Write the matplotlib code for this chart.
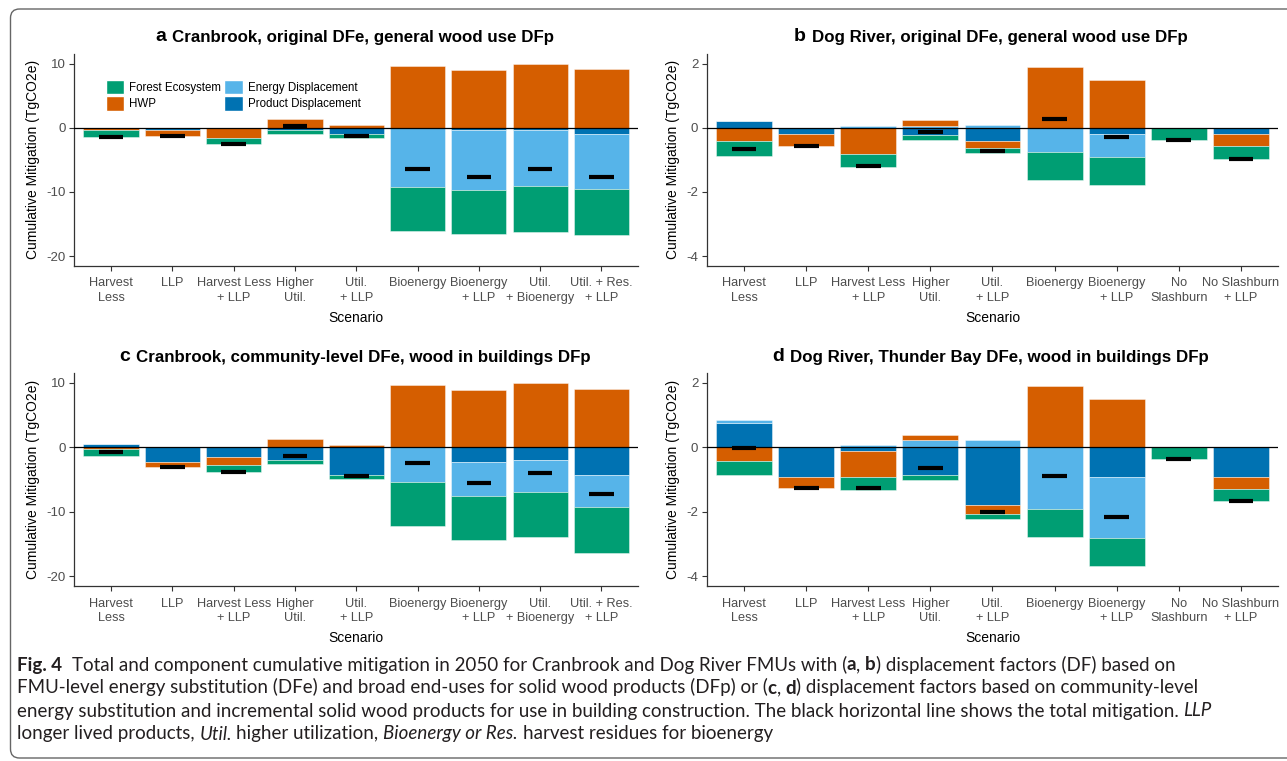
import numpy as np
import matplotlib
matplotlib.use("Agg")
import matplotlib.pyplot as plt
from matplotlib.patches import FancyBboxPatch, Patch

plt.rcParams['font.family'] = ['Liberation Sans', 'DejaVu Sans']
plt.rcParams['axes.unicode_minus'] = False

# categories
cats_cran = ["Harvest\nLess", "LLP", "Harvest Less\n+ LLP", "Higher\nUtil.", "Util.\n+ LLP",
             "Bioenergy", "Bioenergy\n+ LLP", "Util.\n+ Bioenergy", "Util. + Res.\n+ LLP"]
cats_dog = ["Harvest\nLess", "LLP", "Harvest Less\n+ LLP", "Higher\nUtil.", "Util.\n+ LLP",
            "Bioenergy", "Bioenergy\n+ LLP", "No\nSlashburn", "No Slashburn\n+ LLP"]

# panel a (TgCO2e)
forest_a = [-1.0, 0, -1.0, -0.7, -0.67, -6.9, -6.9, -7.25, -7.2]
hwp_a = [-0.42, -0.95, -1.6, 1.3, 0.35, 9.6, 8.95, 9.9, 9.1]
energy_a = [0, 0, 0, 0, 0, -9.2, -9.3, -8.75, -8.6]
product_a = [0, -0.35, 0, -0.35, -0.93, 0, -0.4, -0.3, -0.95]

# panel b
forest_b = [-0.45, 0, -0.41, -0.14, -0.16, -0.88, -0.87, -0.37, -0.39]
hwp_b = [-0.42, -0.39, -0.82, 0.19, -0.22, 1.9, 1.5, 0, -0.39]
energy_b = [0.02, 0, 0.04, 0.06, 0.07, -0.75, -0.73, 0, 0]
product_b = [0.2, -0.19, 0, -0.23, -0.42, 0, -0.19, 0, -0.19]

# panel c
forest_c = [-1.05, 0, -1.14, -0.65, -0.62, -6.77, -6.87, -7.03, -7.18]
hwp_c = [-0.3, -0.78, -1.19, 1.24, 0.36, 9.66, 8.94, 9.92, 9.1]
energy_c = [0, 0, 0, 0, 0, -5.37, -5.28, -4.96, -4.96]
product_c = [0.57, -2.27, -1.55, -1.9, -4.24, 0, -2.27, -1.91, -4.24]

# panel d
forest_d = [-0.45, 0, -0.42, -0.15, -0.15, -0.87, -0.87, -0.37, -0.38]
hwp_d = [-0.42, -0.36, -0.8, 0.15, -0.27, 1.89, 1.5, 0, -0.37]
energy_d = [0.09, 0, 0.07, 0.22, 0.22, -1.91, -1.89, 0, 0]
product_d = [0.75, -0.91, -0.11, -0.85, -1.8, 0, -0.91, 0, -0.91]

C_FOREST = '#009E73'
C_HWP = '#D55E00'
C_ENERGY = '#56B4E9'
C_PRODUCT = '#0072B2'

fig = plt.figure(figsize=(12.87, 7.61), dpi=100)

# background layer in pixel units: frame + caption
bg = fig.add_axes([0, 0, 1, 1])
bg.set_xlim(0, 1287)
bg.set_ylim(761, 0)
bg.axis('off')
bg.add_patch(FancyBboxPatch((10.5, 9), 1300, 749, boxstyle='round,pad=0,rounding_size=9',
                            fc='none', ec='#666666', lw=1.0, clip_on=False))


def panel(rect, letter, title, cats, forest, hwp, energy, product, ylim, yticks, legend=False):
    ax = fig.add_axes(rect)
    x = np.arange(len(cats))
    pos = np.zeros(len(cats))
    neg = np.zeros(len(cats))
    for vals, col in zip([product, energy, hwp, forest], [C_PRODUCT, C_ENERGY, C_HWP, C_FOREST]):
        v = np.array(vals, dtype=float)
        base = np.where(v >= 0, pos, neg)
        ax.bar(x, v, 0.9, bottom=base, color=col, edgecolor=(1, 1, 1, 0.6), linewidth=0.5, zorder=2)
        pos = pos + np.clip(v, 0, None)
        neg = neg + np.clip(v, None, 0)
    total = np.sum([forest, hwp, energy, product], axis=0)
    ax.axhline(0, color='black', lw=0.9, zorder=3)
    ax.hlines(total, x - 0.2, x + 0.2, color='black', lw=3, zorder=4, capstyle='butt')

    ax.set_xlim(-0.6, len(cats) - 0.4)
    ax.set_ylim(*ylim)
    ax.set_xticks(x)
    ax.set_xticklabels(cats, fontsize=9.2, color='#4D4D4D', linespacing=1.25)
    ax.set_yticks(yticks)
    ax.set_yticklabels([str(t) for t in yticks], fontsize=9.5, color='#4D4D4D')
    ax.tick_params(length=3.5, width=0.8, color='#333333', pad=2.5)
    ax.tick_params(axis='x', pad=5)
    for s in ['top', 'right']:
        ax.spines[s].set_visible(False)
    for s in ['left', 'bottom']:
        ax.spines[s].set_color('#333333')
        ax.spines[s].set_linewidth(0.9)
    ax.set_xlabel('Scenario', fontsize=10, labelpad=5)
    ax.set_ylabel('Cumulative Mitigation (TgCO2e)', fontsize=10, labelpad=5)

    t = ax.annotate(title, xy=(0.5, 1), xycoords='axes fraction', xytext=(5, 8.4),
                    textcoords='offset points', ha='center', va='baseline',
                    fontsize=12.2, fontweight='bold')
    ax.annotate(letter, xy=(0, 0), xycoords=t, xytext=(-4, 0), textcoords='offset points',
                ha='right', va='bottom', fontsize=14, fontweight='bold')

    if legend:
        handles = [Patch(facecolor=C_FOREST, edgecolor='white', label='Forest Ecosystem'),
                   Patch(facecolor=C_HWP, edgecolor='white', label='HWP'),
                   Patch(facecolor=C_ENERGY, edgecolor='white', label='Energy Displacement'),
                   Patch(facecolor=C_PRODUCT, edgecolor='white', label='Product Displacement')]
        ax.legend(handles=handles, loc='upper left', bbox_to_anchor=(0.056, 0.877), ncol=2,
                  frameon=False, fontsize=8.3, handlelength=1.6, handleheight=1.55,
                  handletextpad=0.45, columnspacing=0.25, labelspacing=0.15,
                  borderpad=0, borderaxespad=0)
    return ax


panel([0.0577, 0.6509, 0.4382, 0.2782], 'a', 'Cranbrook, original DFe, general wood use DFp',
      cats_cran, forest_a, hwp_a, energy_a, product_a, (-21.5, 11.5), [-20, -10, 0, 10], legend=True)
panel([0.5491, 0.6509, 0.4441, 0.2782], 'b', 'Dog River, original DFe, general wood use DFp',
      cats_dog, forest_b, hwp_b, energy_b, product_b, (-4.3, 2.3), [-4, -2, 0, 2])
panel([0.0577, 0.2300, 0.4382, 0.2795], 'c', 'Cranbrook, community-level DFe, wood in buildings DFp',
      cats_cran, forest_c, hwp_c, energy_c, product_c, (-21.5, 11.5), [-20, -10, 0, 10])
panel([0.5491, 0.2300, 0.4441, 0.2795], 'd', 'Dog River, Thunder Bay DFe, wood in buildings DFp',
      cats_dog, forest_d, hwp_d, energy_d, product_d, (-4.3, 2.3), [-4, -2, 0, 2])

# caption, pieces chained one after another
caption = [
    [("Fig. 4", 'b'), ("  Total and component cumulative mitigation in 2050 for Cranbrook and Dog River FMUs with (", 'n'),
     ("a", 'b'), (",", 'n'), (" b", 'b'), (") displacement factors (DF) based on", 'n')],
    [("FMU-level energy substitution (DFe) and broad end-uses for solid wood products (DFp) or (", 'n'),
     ("c", 'b'), (",", 'n'), (" d", 'b'), (") displacement factors based on community-level", 'n')],
    [("energy substitution and incremental solid wood products for use in building construction. "
      "The black horizontal line shows the total mitigation.", 'n'), (" LLP", 'i')],
    [("longer lived products,", 'n'), (" Util.", 'i'), (" higher utilization,", 'n'),
     (" Bioenergy or Res.", 'i'), (" harvest residues for bioenergy", 'n')],
]
cap_fs = 13.5
cap_font = ['Lato', 'DejaVu Sans']
for i, parts in enumerate(caption):
    y = 673.5 + 23 * i
    prev = None
    for txt, style in parts:
        kw = dict(fontsize=cap_fs, family=cap_font, color='#231F20')
        if style == 'b':
            kw['fontweight'] = 'bold'
        if style == 'i':
            kw['fontstyle'] = 'italic'
        gap = 0
        if txt.startswith('  '):
            gap = 0.5 * cap_fs
        elif txt.startswith(' '):
            gap = 0.25 * cap_fs
        txt = txt.strip()
        if prev is None:
            prev = bg.text(17, y, txt, ha='left', va='bottom', **kw)
        else:
            prev = bg.annotate(txt, xy=(1, 0), xycoords=prev, xytext=(gap, 0),
                               textcoords='offset points', ha='left', va='bottom', **kw)

fig.savefig('out.png', dpi=100)
